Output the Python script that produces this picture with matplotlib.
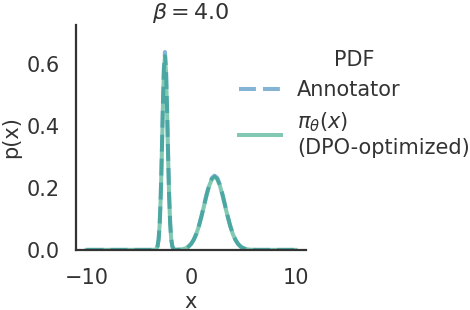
import matplotlib
matplotlib.use("Agg")
import matplotlib.pyplot as plt

# x grid and PDF values
x_vals = [-10.0, -9.0, -8.0, -7.0, -6.0, -5.0, -4.0, -3.5,
          -3.4, -3.3, -3.2, -3.1, -3.0, -2.9, -2.8, -2.7, -2.6, -2.5,
          -2.4, -2.3, -2.2, -2.1, -2.0, -1.9, -1.8, -1.7, -1.6, -1.5,
          -1.25, -1.0, -0.75, -0.5, -0.25, 0.0, 0.25, 0.5, 0.75, 1.0,
          1.25, 1.5, 1.75, 2.0, 2.25, 2.5, 2.75, 3.0, 3.25, 3.5, 3.75,
          4.0, 4.25, 4.5, 4.75, 5.0, 5.25, 5.5, 5.75, 6.0, 6.5, 7.0,
          8.0, 9.0, 10.0]

annotator_pdf = [0.0, 0.0, 0.0, 0.0, 0.0, 0.0, 0.0, 0.0002,
                 0.0010, 0.0038, 0.0126, 0.0358, 0.0864, 0.1774, 0.3107, 0.4635, 0.5892, 0.6383,
                 0.5892, 0.4635, 0.3107, 0.1774, 0.0864, 0.0358, 0.0126, 0.0038, 0.0010, 0.0003,
                 0.0005, 0.0012, 0.0027, 0.0055, 0.0105, 0.0191, 0.0324, 0.0518, 0.0777, 0.1096,
                 0.1452, 0.1807, 0.2113, 0.2320, 0.2394, 0.2320, 0.2113, 0.1807, 0.1452, 0.1096, 0.0777,
                 0.0518, 0.0324, 0.0191, 0.0105, 0.0055, 0.0027, 0.0012, 0.0005, 0.0001, 0.0, 0.0,
                 0.0, 0.0, 0.0]

dpo_pdf = [0.0, 0.0, 0.0, 0.0, 0.0, 0.0, 0.0, 0.0002,
           0.0010, 0.0037, 0.0123, 0.0350, 0.0845, 0.1735, 0.3040, 0.4535, 0.5765, 0.6245,
           0.5765, 0.4535, 0.3040, 0.1735, 0.0845, 0.0350, 0.0123, 0.0037, 0.0010, 0.0003,
           0.0005, 0.0012, 0.0027, 0.0054, 0.0103, 0.0188, 0.0319, 0.0510, 0.0765, 0.1080,
           0.1430, 0.1780, 0.2081, 0.2285, 0.2358, 0.2285, 0.2081, 0.1780, 0.1430, 0.1080, 0.0765,
           0.0510, 0.0319, 0.0188, 0.0103, 0.0054, 0.0027, 0.0012, 0.0005, 0.0001, 0.0, 0.0,
           0.0, 0.0, 0.0]

title_text = r"$\beta = 4.0$"
label_annot = "Annotator"
label_dpo = "$\\pi_\\theta(x)$\n(DPO-optimized)"

TXT = "#333333"
plt.rcParams["font.family"] = ["DejaVu Sans"]
plt.rcParams["text.color"] = TXT
plt.rcParams["axes.labelcolor"] = TXT
plt.rcParams["xtick.color"] = TXT
plt.rcParams["ytick.color"] = TXT

fig = plt.figure(figsize=(4.7, 3.1), dpi=100)
ax = fig.add_axes([0.162, 0.194, 0.489, 0.725])

ax.plot(x_vals, annotator_pdf, color="#1f77b4", alpha=0.55, lw=2.9,
        dashes=(4.2, 1.75), label=label_annot)
ax.plot(x_vals, dpo_pdf, color="#1b9e77", alpha=0.55, lw=2.9,
        label=label_dpo)

ax.set_xlim(-11, 11)
ax.set_ylim(0, 0.725)
ax.set_xticks([-10, 0, 10])
ax.set_yticks([0.0, 0.2, 0.4, 0.6])
ax.set_yticklabels(["0.0", "0.2", "0.4", "0.6"])
ax.tick_params(axis="x", length=0, pad=13, labelsize=15)
ax.tick_params(axis="y", length=0, pad=11.5, labelsize=15)

for s in ["top", "right"]:
    ax.spines[s].set_visible(False)
for s in ["left", "bottom"]:
    ax.spines[s].set_color(TXT)
    ax.spines[s].set_linewidth(1.6)

ax.set_title(title_text, fontsize=16, pad=4)
ax.set_xlabel("x", fontsize=15, labelpad=3)
ax.set_ylabel("p(x)", fontsize=15, labelpad=4)

leg = ax.legend(loc="center left", bbox_to_anchor=(0.627, 0.65), frameon=False,
                title="PDF", fontsize=15, title_fontsize=15,
                handlelength=2.0, handletextpad=0.8, labelspacing=0.5)

fig.savefig("out.png", dpi=100)
